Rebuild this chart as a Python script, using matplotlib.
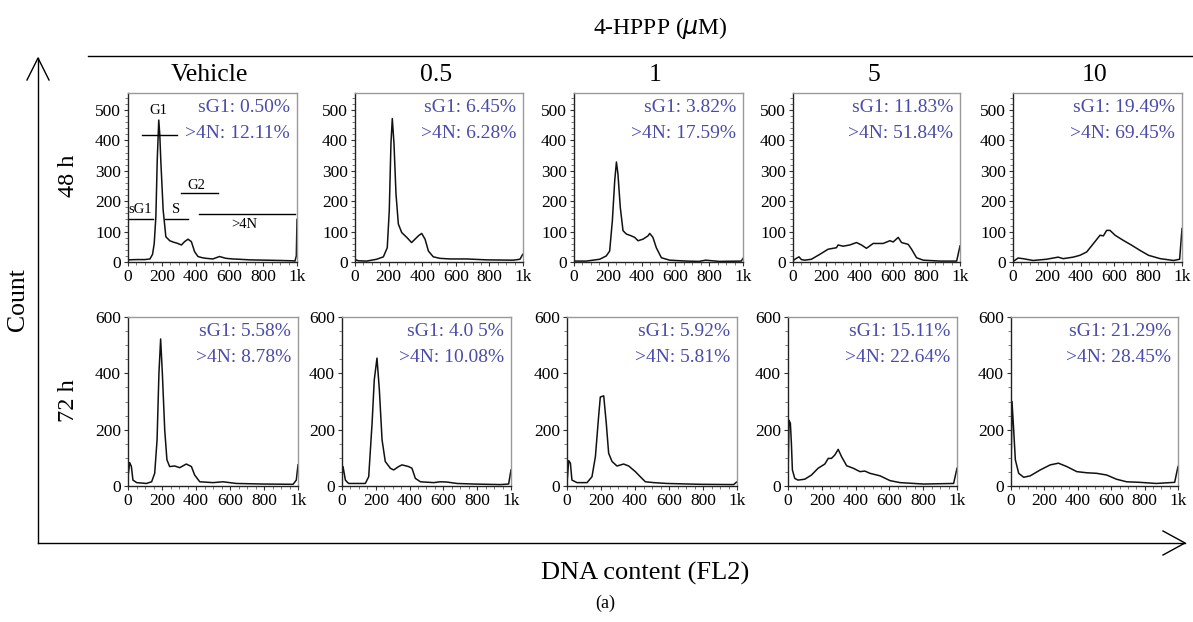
import matplotlib
matplotlib.use("Agg")
import matplotlib.pyplot as plt
from matplotlib.ticker import MultipleLocator, FixedLocator

plt.rcParams['font.family'] = ['Liberation Serif', 'DejaVu Serif']

W, H = 1193, 622

doses = ["Vehicle", "0.5", "1", "5", "10"]
times = ["48 h", "72 h"]

# ---- 48 h histograms (DNA content channel, count) ----
veh48_x = [0, 50, 100, 130, 145, 155, 165, 173, 182, 188, 194, 208, 224, 247, 270, 290, 316, 335, 355, 375, 394, 414, 440, 463, 502, 541, 580, 620, 659, 720, 816, 900, 973, 988, 996, 1000]
veh48_y = [7, 8, 8, 10, 25, 60, 150, 335, 467, 420, 335, 171, 83, 70, 65, 62, 56, 67, 75, 67, 34, 18, 14, 12, 10, 18, 12, 10, 9, 7, 6, 5, 4, 3, 20, 140]
d05_48_x = [0, 6, 20, 69, 129, 169, 192, 204, 214, 222, 232, 244, 258, 278, 308, 337, 357, 377, 397, 417, 437, 466, 506, 565, 665, 784, 942, 982, 998]
d05_48_y = [5, 7, 4, 3, 9, 17, 47, 169, 390, 472, 390, 224, 125, 97, 81, 64, 75, 86, 94, 75, 36, 17, 12, 10, 10, 7, 6, 9, 25]
d1_48_x = [0, 73, 152, 191, 211, 227, 241, 251, 260, 274, 290, 310, 339, 359, 379, 408, 438, 448, 467, 487, 517, 566, 665, 740, 779, 858, 990, 1000]
d1_48_y = [3, 3, 9, 20, 36, 136, 268, 329, 290, 179, 103, 92, 86, 81, 70, 75, 86, 94, 81, 47, 14, 6, 3, 2, 6, 2, 3, 12]
d5_48_x = [0, 4, 20, 36, 50, 70, 110, 160, 210, 260, 270, 300, 340, 380, 410, 440, 480, 540, 580, 600, 630, 650, 690, 710, 740, 780, 880, 980, 1000]
d5_48_y = [4, 6, 12, 17, 8, 6, 9, 25, 42, 47, 56, 52, 56, 64, 56, 45, 61, 61, 70, 66, 81, 64, 58, 42, 14, 6, 3, 3, 53]
d10_48_x = [0, 4, 30, 59, 119, 198, 267, 297, 356, 396, 436, 475, 515, 535, 554, 574, 604, 653, 703, 752, 802, 871, 950, 986, 1000]
d10_48_y = [3, 3, 13, 11, 5, 9, 16, 11, 16, 22, 33, 60, 88, 86, 104, 104, 88, 71, 55, 38, 22, 11, 5, 9, 110]

# ---- 72 h histograms ----
veh72_x = [0, 10, 20, 29, 51, 108, 139, 157, 171, 182, 192, 202, 216, 229, 245, 275, 304, 343, 373, 392, 422, 500, 559, 637, 794, 971, 990, 1000]
veh72_y = [33, 83, 69, 21, 12, 9, 15, 45, 164, 401, 522, 401, 199, 93, 69, 71, 65, 78, 69, 39, 15, 12, 15, 9, 7, 6, 21, 75]
d05_72_x = [0, 6, 20, 39, 138, 158, 178, 191, 207, 221, 237, 256, 286, 306, 335, 355, 394, 414, 434, 464, 542, 582, 621, 680, 779, 937, 986, 1000]
d05_72_y = [33, 69, 21, 9, 9, 33, 223, 377, 454, 342, 164, 87, 63, 57, 69, 75, 69, 63, 27, 15, 12, 15, 14, 9, 7, 5, 7, 57]
d1_72_x = [0, 10, 20, 29, 59, 118, 147, 167, 186, 196, 216, 231, 245, 265, 294, 333, 363, 402, 431, 461, 510, 588, 784, 980, 1000]
d1_72_y = [9, 90, 81, 21, 12, 12, 33, 104, 247, 316, 320, 223, 116, 87, 71, 78, 71, 51, 33, 15, 12, 9, 6, 5, 15]
d5_72_x = [0, 6, 14, 20, 26, 40, 59, 99, 139, 178, 218, 238, 257, 277, 297, 317, 347, 386, 426, 455, 485, 545, 604, 663, 802, 980, 1000]
d5_72_y = [33, 233, 223, 152, 57, 27, 21, 24, 39, 63, 78, 98, 98, 110, 130, 104, 72, 63, 51, 53, 45, 36, 19, 12, 7, 9, 63]
d10_72_x = [0, 6, 16, 26, 46, 76, 115, 175, 235, 284, 334, 394, 453, 513, 573, 632, 692, 771, 870, 980, 1000]
d10_72_y = [33, 300, 199, 93, 45, 31, 36, 57, 75, 81, 69, 51, 47, 45, 39, 24, 15, 13, 9, 13, 69]

sg1_48 = ["0.50%", "6.45%", "3.82%", "11.83%", "19.49%"]
n4_48 = ["12.11%", "6.28%", "17.59%", "51.84%", "69.45%"]
sg1_72 = ["5.58%", "4.0 5%", "5.92%", "15.11%", "21.29%"]
n4_72 = ["8.78%", "10.08%", "5.81%", "22.64%", "28.45%"]

xticks = [0, 200, 400, 600, 800, 1000]
xticklabels = ["0", "200", "400", "600", "800", "1k"]

rows = [
    dict(curves=[(veh48_x, veh48_y), (d05_48_x, d05_48_y), (d1_48_x, d1_48_y), (d5_48_x, d5_48_y), (d10_48_x, d10_48_y)],
         sg1=sg1_48, n4=n4_48, ymax=556, major=100, minor=20,
         boxes=[(128, 297), (355, 523), (574, 743), (793, 960), (1013, 1182)], top=93, bot=262),
    dict(curves=[(veh72_x, veh72_y), (d05_72_x, d05_72_y), (d1_72_x, d1_72_y), (d5_72_x, d5_72_y), (d10_72_x, d10_72_y)],
         sg1=sg1_72, n4=n4_72, ymax=600, major=200, minor=50,
         boxes=[(128, 298), (342, 511), (567, 737), (788, 957), (1011, 1178)], top=317, bot=486),
]

fig = plt.figure(figsize=(W / 100, H / 100), dpi=100)
anno_color = '#4B4BAA'

axes_grid = []
for r, row in enumerate(rows):
    row_axes = []
    for c, (l, rr) in enumerate(row['boxes']):
        ax = fig.add_axes([l / W, 1 - row['bot'] / H, (rr - l) / W, (row['bot'] - row['top']) / H])
        x, y = row['curves'][c]
        ax.plot(x, y, color='#111111', lw=1.1)
        ax.set_xlim(0, 1000)
        ax.set_ylim(0, row['ymax'])
        ax.xaxis.set_major_locator(FixedLocator(xticks))
        ax.set_xticklabels(xticklabels)
        ax.xaxis.set_minor_locator(MultipleLocator(50))
        ax.yaxis.set_major_locator(MultipleLocator(row['major']))
        ax.yaxis.set_minor_locator(MultipleLocator(row['minor']))
        ax.tick_params(which='major', length=3, width=0.8, labelsize=12.5, pad=2, color='#333333')
        ax.tick_params(which='minor', length=2, width=0.6, color='#666666')
        for s in ['left', 'bottom']:
            ax.spines[s].set_color('#222222')
            ax.spines[s].set_linewidth(1.0)
        for s in ['top', 'right']:
            ax.spines[s].set_color('#999999')
            ax.spines[s].set_linewidth(1.0)
        wpx = rr - l
        hpx = row['bot'] - row['top']
        ax.text(1 - 7 / wpx, 1 - 15 / hpx, "sG1: " + row['sg1'][c], transform=ax.transAxes,
                ha='right', va='center', color=anno_color, fontsize=14)
        ax.text(1 - 7 / wpx, 1 - 40 / hpx, ">4N: " + row['n4'][c], transform=ax.transAxes,
                ha='right', va='center', color=anno_color, fontsize=14)
        row_axes.append(ax)
    axes_grid.append(row_axes)

# gate markers on the vehicle 48 h panel
gx = axes_grid[0][0]
gates = [("G1", 82, 288, 418, 182, 500), ("sG1", 6, 147, 141, 70, 174), ("S", 218, 353, 141, 282, 174),
         ("G2", 312, 530, 227, 406, 253), (">4N", 418, 988, 158, 688, 125)]
for name, x0, x1, yy, tx, ty in gates:
    gx.plot([x0, x1], [yy, yy], color='black', lw=1.0)
    gx.text(tx, ty, name, ha='center', va='center', fontsize=10.5)

# column titles
for c, (l, rr) in enumerate(rows[0]['boxes']):
    fig.text((l + rr) / 2 / W - 3 / W, 1 - 75 / H, doses[c], ha='center', va='center', fontsize=18.5)

# row labels
fig.text(68 / W, 1 - 176 / H, times[0], rotation=90, ha='center', va='center', fontsize=17.5)
fig.text(68 / W, 1 - 401 / H, times[1], rotation=90, ha='center', va='center', fontsize=17.5)

# overlay for frame arrows and outer labels
ov = fig.add_axes([0, 0, 1, 1], zorder=-1)
ov.set_xlim(0, W)
ov.set_ylim(H, 0)
ov.axis('off')
ov.plot([88, 1193], [56, 56], color='black', lw=1.0)
ov.plot([38, 38], [543, 58], color='black', lw=1.0)
ov.plot([38, 1185], [543, 543], color='black', lw=1.0)
ov.plot([27, 38, 49], [80, 58, 80], color='black', lw=1.0)
ov.plot([1163, 1185, 1163], [531, 543, 555], color='black', lw=1.0)

fig.text(660 / W, 1 - 28 / H, "4-HPPP ($\\mu$M)", ha='center', va='center', fontsize=17)
fig.text(18 / W, 1 - 300 / H, "Count", rotation=90, ha='center', va='center', fontsize=18.5)
fig.text(645 / W, 1 - 573 / H, "DNA content (FL2)", ha='center', va='center', fontsize=19)
fig.text(605 / W, 1 - 603 / H, "(a)", ha='center', va='center', fontsize=13)

fig.savefig("out.png", dpi=100)
